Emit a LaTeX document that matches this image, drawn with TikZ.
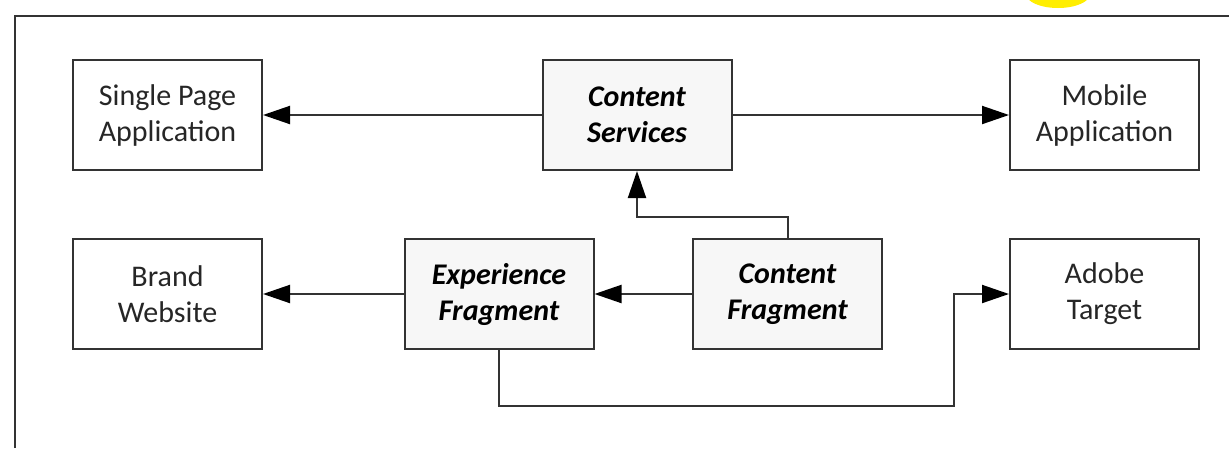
\documentclass[tikz,border=0pt]{standalone}
\usepackage{fontspec}
\setmainfont{Carlito}
\usetikzlibrary{arrows.meta}
\definecolor{ln}{HTML}{333333}
\definecolor{tx}{HTML}{262626}
\begin{document}
\begin{tikzpicture}[x=1pt,y=-1pt,
  box/.style={draw=ln, line width=2pt, fill=white, minimum width=189pt, minimum height=110pt,
    inner sep=0pt, align=center, text=tx, font=\fontsize{30}{36}\selectfont},
  keybox/.style={box, fill=black!3, text=black, font=\fontsize{30}{36}\selectfont\bfseries\itshape},
  arr/.style={draw=ln, line width=2pt, -{Triangle[length=27pt,width=18pt,color=black]}}]
\useasboundingbox (0,0) rectangle (1229,448);
\fill[white] (0,0) rectangle (1229,448);
\begin{scope}
\clip (0,0) rectangle (1229,448);
\fill[yellow!90!orange!40!yellow] (1058,-6) ellipse [x radius=32, y radius=14];
\end{scope}
\draw[ln, line width=2pt] (15,448) -- (15,16) -- (1229,16);
\node[box] (spa) at (167.5,115) {Single Page\\Application};
\node[keybox] (cs) at (637,115) {Content\\Services};
\node[box] (ma) at (1104.5,115) {Mobile\\Application};
\node[box] (bw) at (167.5,294) {Brand\\Website};
\node[keybox] (ef) at (499,294) {Experience\\Fragment};
\node[keybox] (cf) at (787.5,294) {Content\\Fragment};
\node[box] (at) at (1104.5,294) {Adobe\\Target};
\coordinate (bend) at (954,406);
\draw[arr] (cs.west) -- (spa.east);
\draw[arr] (cs.east) -- (ma.west);
\draw[arr] (cf.north) -- ++(0,-21) -| (cs.south);
\draw[arr] (cf.west) -- (ef.east);
\draw[arr] (ef.west) -- (bw.east);
\draw[arr] (ef.south) |- (bend) |- (at.west);
\end{tikzpicture}
\end{document}
